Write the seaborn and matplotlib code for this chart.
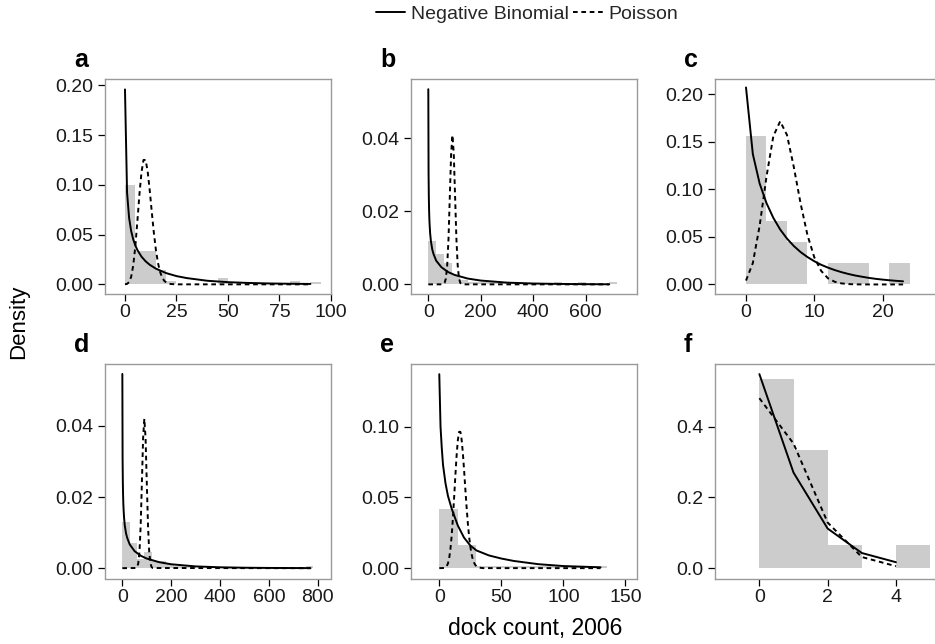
import numpy as np
import pandas as pd
import matplotlib
matplotlib.use("Agg")
import matplotlib.pyplot as plt
from matplotlib.lines import Line2D
import seaborn as sns

# ---------------- data ----------------
# panel a
a_bin_left = [0, 5, 10, 15, 20, 45, 80, 90]
a_bin_density = [0.100, 0.0335, 0.0335, 0.0146, 0.0033, 0.0067, 0.0033, 0.0028]
a_bin_width = 5
a_nb_x = [0, 1, 2, 3, 4, 5, 6, 8, 10, 12, 15, 20, 25, 30, 40, 50, 60, 70, 80, 90]
a_nb_y = [0.196, 0.0925, 0.0668, 0.0536, 0.0452, 0.0392, 0.0346, 0.0279, 0.0232, 0.0197,
          0.0158, 0.0113, 0.0083, 0.0063, 0.0036, 0.0022, 0.0014, 0.0009, 0.0006, 0.0004]
a_po_x = [0, 1, 2, 3, 4, 5, 6, 7, 8, 9, 10, 11, 12, 13, 14, 15, 16, 17, 18, 19, 20, 21, 22, 24, 26, 90]
a_po_y = [0.00005, 0.00045, 0.0023, 0.0076, 0.0189, 0.0378, 0.0631, 0.0901, 0.1126, 0.1251,
          0.1251, 0.1137, 0.0948, 0.0729, 0.0521, 0.0347, 0.0217, 0.0128, 0.0071, 0.0037,
          0.0019, 0.0009, 0.0004, 0.0001, 0.00001, 0.0]

# panel b
b_bin_left = [0, 30, 60, 90, 120, 150, 180, 210, 240, 270, 300, 480, 570, 690]
b_bin_density = [0.0118, 0.0082, 0.0059, 0.0025, 0.0012, 0.0006, 0.0006, 0.0006, 0.0006,
                 0.0006, 0.0006, 0.0006, 0.0006, 0.0006]
b_bin_width = 30
b_nb_x = [0, 1, 2, 3, 4, 5, 7, 10, 15, 20, 30, 50, 75, 100, 150, 200, 300, 400, 500, 600, 690]
b_nb_y = [0.0535, 0.0306, 0.0239, 0.0203, 0.0180, 0.0164, 0.0140, 0.0118, 0.0096, 0.0083,
          0.0065, 0.0047, 0.0034, 0.0026, 0.0016, 0.00105, 0.00048, 0.00024, 0.00012,
          0.00006, 0.00003]
b_po_x = [0, 52, 57, 62, 67, 72, 77, 82, 87, 92, 97, 102, 107, 112, 117, 122, 127, 132, 690]
b_po_y = [0.0, 0.00001, 0.00007, 0.0004, 0.0016, 0.0051, 0.0124, 0.0240, 0.0357, 0.0409,
          0.0360, 0.0245, 0.0128, 0.0053, 0.0017, 0.0004, 0.0001, 0.00001, 0.0]

# panel c
c_bin_left = [0, 3, 6, 12, 15, 21]
c_bin_density = [0.1556, 0.0667, 0.0444, 0.0222, 0.0222, 0.0222]
c_bin_width = 3
c_nb_x = list(range(0, 24))
c_nb_y = [0.207, 0.137, 0.106, 0.0855, 0.0700, 0.0578, 0.0482, 0.0404, 0.0340, 0.0288,
          0.0244, 0.0207, 0.0177, 0.0151, 0.0129, 0.0110, 0.0094, 0.0081, 0.0069, 0.0059,
          0.0051, 0.0044, 0.0038, 0.0033]
c_po_x = [0, 1, 2, 3, 4, 5, 6, 7, 8, 9, 10, 11, 12, 13, 14, 15, 16, 17, 18, 23]
c_po_y = [0.0041, 0.0225, 0.0618, 0.1133, 0.1558, 0.1714, 0.1571, 0.1234, 0.0849, 0.0519,
          0.0285, 0.0143, 0.0065, 0.0028, 0.0011, 0.0004, 0.0001, 0.00004, 0.00001, 0.0]

# panel d
d_bin_left = [0, 30, 60, 90, 120, 150, 180, 210, 240, 270, 750]
d_bin_density = [0.0131, 0.0071, 0.0027, 0.0045, 0.0019, 0.0019, 0.0012, 0.0006, 0.0006,
                 0.0006, 0.0006]
d_bin_width = 30
d_nb_x = [0, 1, 2, 3, 4, 5, 7, 10, 15, 20, 30, 50, 75, 100, 150, 200, 300, 400, 500, 600, 700, 770]
d_nb_y = [0.0546, 0.0310, 0.0242, 0.0206, 0.0182, 0.0166, 0.0142, 0.0120, 0.0098, 0.0085,
          0.0067, 0.0048, 0.0035, 0.0027, 0.0017, 0.0011, 0.0005, 0.00025, 0.00013,
          0.00007, 0.00004, 0.00002]
d_po_x = [0, 55, 60, 65, 70, 75, 80, 85, 90, 95, 100, 105, 110, 115, 120, 125, 770]
d_po_y = [0.0, 0.00005, 0.00028, 0.0013, 0.0045, 0.0120, 0.0241, 0.0366, 0.0420, 0.0366,
          0.0241, 0.0120, 0.0045, 0.0013, 0.00028, 0.00005, 0.0]

# panel e
e_bin_left = [0, 15, 30, 45, 60, 75, 90, 105, 120]
e_bin_density = [0.0420, 0.0162, 0.0012, 0.0012, 0.0012, 0.0012, 0.0012, 0.0012, 0.0012]
e_bin_width = 15
e_nb_x = [0, 1, 2, 3, 5, 7, 10, 15, 20, 25, 30, 40, 50, 60, 80, 100, 130]
e_nb_y = [0.137, 0.100, 0.085, 0.073, 0.060, 0.051, 0.042, 0.030, 0.0215, 0.0160, 0.0125,
          0.0090, 0.0068, 0.0051, 0.0028, 0.0015, 0.0006]
e_po_x = [0, 4, 5, 6, 7, 8, 9, 10, 11, 12, 13, 14, 15, 16, 17, 18, 19, 20, 21, 22, 23, 24,
          25, 26, 27, 28, 29, 30, 32, 35, 130]
e_po_y = [0.0, 0.00014, 0.00049, 0.00139, 0.00337, 0.00716, 0.0135, 0.0230, 0.0356, 0.0504,
          0.0659, 0.0800, 0.0907, 0.0963, 0.0963, 0.0909, 0.0814, 0.0692, 0.0560, 0.0433,
          0.0320, 0.0227, 0.0154, 0.0101, 0.0063, 0.0039, 0.0023, 0.0013, 0.0004, 0.00004, 0.0]

# panel f
f_bin_left = [0, 1, 2, 4]
f_bin_density = [0.5333, 0.3333, 0.0667, 0.0667]
f_bin_width = 1
f_nb_x = [0, 1, 2, 3, 4]
f_nb_y = [0.548, 0.270, 0.112, 0.043, 0.017]
f_po_x = [0, 1, 2, 3, 4]
f_po_y = [0.480, 0.352, 0.129, 0.0317, 0.0058]

panel_letters = ["a", "b", "c", "d", "e", "f"]
legend_labels = ["Negative Binomial", "Poisson"]
x_label = "dock count, 2006"
y_label = "Density"

a_xticks = [0, 25, 50, 75, 100]
a_yticks = [0.00, 0.05, 0.10, 0.15, 0.20]
b_xticks = [0, 200, 400, 600]
b_yticks = [0.00, 0.02, 0.04]
c_xticks = [0, 10, 20]
c_yticks = [0.00, 0.05, 0.10, 0.15, 0.20]
d_xticks = [0, 200, 400, 600, 800]
d_yticks = [0.00, 0.02, 0.04]
e_xticks = [0, 50, 100, 150]
e_yticks = [0.00, 0.05, 0.10]
f_xticks = [0, 2, 4]
f_yticks = [0.0, 0.2, 0.4]

# ---------------- styling ----------------
sns.set_theme(style="white")
plt.rcParams["font.family"] = ["Liberation Sans", "DejaVu Sans"]

W, H = 935, 644
fig = plt.figure(figsize=(W / 100, H / 100), dpi=100)
fig.patch.set_facecolor("white")


def rect(left, top, width, height):
    return [left / W, 1 - (top + height) / H, width / W, height / H]


panels = [
    dict(pos=rect(105, 79, 226, 214.5), bl=a_bin_left, bd=a_bin_density, bw=a_bin_width,
         nbx=a_nb_x, nby=a_nb_y, pox=a_po_x, poy=a_po_y, xlim=(-9.7, 100.0),
         ylim=(-0.0092, 0.2065), xt=a_xticks, yt=a_yticks, yfmt="{:.2f}"),
    dict(pos=rect(411, 79, 226, 214.5), bl=b_bin_left, bd=b_bin_density, bw=b_bin_width,
         nbx=b_nb_x, nby=b_nb_y, pox=b_po_x, poy=b_po_y, xlim=(-66, 796),
         ylim=(-0.0025, 0.0563), xt=b_xticks, yt=b_yticks, yfmt="{:.2f}"),
    dict(pos=rect(715, 79, 227, 214.5), bl=c_bin_left, bd=c_bin_density, bw=c_bin_width,
         nbx=c_nb_x, nby=c_nb_y, pox=c_po_x, poy=c_po_y, xlim=(-4.54, 28.7),
         ylim=(-0.0095, 0.2159), xt=c_xticks, yt=c_yticks, yfmt="{:.2f}"),
    dict(pos=rect(105, 364, 226, 214.5), bl=d_bin_left, bd=d_bin_density, bw=d_bin_width,
         nbx=d_nb_x, nby=d_nb_y, pox=d_po_x, poy=d_po_y, xlim=(-71, 854),
         ylim=(-0.0029, 0.0574), xt=d_xticks, yt=d_yticks, yfmt="{:.2f}"),
    dict(pos=rect(411, 364, 226, 214.5), bl=e_bin_left, bd=e_bin_density, bw=e_bin_width,
         nbx=e_nb_x, nby=e_nb_y, pox=e_po_x, poy=e_po_y, xlim=(-22.8, 159.4),
         ylim=(-0.0073, 0.1442), xt=e_xticks, yt=e_yticks, yfmt="{:.2f}"),
    dict(pos=rect(715, 364, 227, 214.5), bl=f_bin_left, bd=f_bin_density, bw=f_bin_width,
         nbx=f_nb_x, nby=f_nb_y, pox=f_po_x, poy=f_po_y, xlim=(-1.30, 5.35),
         ylim=(-0.029, 0.5766), xt=f_xticks, yt=f_yticks, yfmt="{:.1f}"),
]

BAR = "#cccccc"
LW = 1.4
DASH = (0, (2.4, 1.9))
TICKFS = 14
BORDER = "#9a9a9a"

for i, p in enumerate(panels):
    ax = fig.add_axes(p["pos"])
    ax.set_facecolor("white")
    lefts = np.array(p["bl"], dtype=float)
    bw = p["bw"]
    hist_df = pd.DataFrame({"mid": lefts + bw / 2, "dens": np.array(p["bd"], dtype=float)})
    sns.histplot(data=hist_df, x="mid", weights="dens", binwidth=bw,
                 binrange=(0, lefts.max() + bw), stat="count",
                 color=BAR, alpha=1, edgecolor=BAR, linewidth=0, ax=ax, zorder=1)
    nb_df = pd.DataFrame({"x": p["nbx"], "y": p["nby"]})
    po_df = pd.DataFrame({"x": p["pox"], "y": p["poy"]})
    sns.lineplot(data=nb_df, x="x", y="y", ax=ax, color="black", linewidth=LW,
                 sort=False, zorder=3)
    sns.lineplot(data=po_df, x="x", y="y", ax=ax, color="black", linewidth=LW,
                 linestyle=DASH, sort=False, zorder=3)
    ax.set_xlim(*p["xlim"])
    ax.set_ylim(*p["ylim"])
    ax.set_xticks(p["xt"])
    ax.set_xticklabels([str(t) for t in p["xt"]])
    ax.set_yticks(p["yt"])
    ax.set_yticklabels([p["yfmt"].format(t) for t in p["yt"]])
    ax.set_xlabel("")
    ax.set_ylabel("")
    ax.grid(False)
    for s in ax.spines.values():
        s.set_visible(True)
        s.set_color(BORDER)
        s.set_linewidth(1.0)
    ax.tick_params(axis="both", which="major", direction="out", length=5, width=0.9,
                   color="black", labelsize=TICKFS, labelcolor="#1a1a1a",
                   bottom=True, left=True)
    ax.tick_params(axis="y", pad=3.5)
    ax.tick_params(axis="x", pad=2.5)
    l, b, w, h = p["pos"]
    fig.text(l - 31 / W, b + h + 12 / H, panel_letters[i], fontsize=18, fontweight="bold",
             ha="left", va="baseline", color="black")

fig.text(19 / W, 1 - 322 / H, y_label, rotation=90, ha="center", va="center", fontsize=16,
         color="black")
fig.text(535 / W, 1 - 628 / H, x_label, ha="center", va="center", fontsize=16.5,
         color="black")

handles = [Line2D([], [], color="black", linewidth=LW),
           Line2D([], [], color="black", linewidth=LW, linestyle=DASH)]
fig.legend(handles, legend_labels, loc="center", bbox_to_anchor=(527 / W, 1 - 14 / H),
           ncol=2, frameon=False, fontsize=14, handlelength=1.5, handletextpad=0.3,
           columnspacing=0.25, borderpad=0)

fig.savefig("out.png", dpi=100, facecolor="white")
